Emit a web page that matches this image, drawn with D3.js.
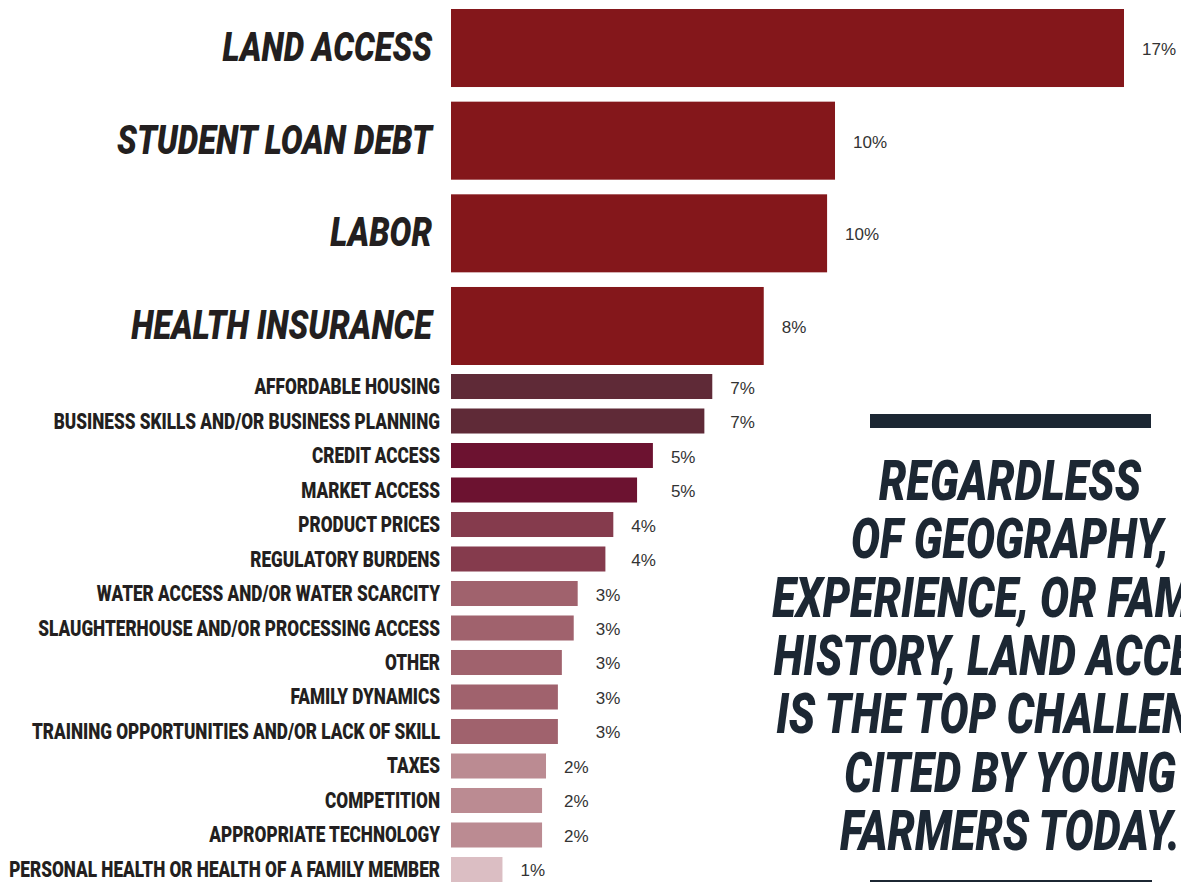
<!DOCTYPE html>
<html>
<head>
<meta charset="utf-8">
<script src="https://cdn.jsdelivr.net/npm/d3@7/dist/d3.min.js"></script>
<style>
  html, body { margin: 0; padding: 0; background: #ffffff; }
  svg { display: block; }
</style>
</head>
<body>
<svg id="chart" width="1181" height="882"></svg>
<script>
// ---------- DATA ----------
const bigCategories = ["LAND ACCESS", "STUDENT LOAN DEBT", "LABOR", "HEALTH INSURANCE"];
const bigValues = [17.0, 9.7, 9.5, 7.9];
const bigLabels = ["17%", "10%", "10%", "8%"];

const smallCategories = [
  "AFFORDABLE HOUSING",
  "BUSINESS SKILLS AND/OR BUSINESS PLANNING",
  "CREDIT ACCESS",
  "MARKET ACCESS",
  "PRODUCT PRICES",
  "REGULATORY BURDENS",
  "WATER ACCESS AND/OR WATER SCARCITY",
  "SLAUGHTERHOUSE AND/OR PROCESSING ACCESS",
  "OTHER",
  "FAMILY DYNAMICS",
  "TRAINING OPPORTUNITIES AND/OR LACK OF SKILL",
  "TAXES",
  "COMPETITION",
  "APPROPRIATE TECHNOLOGY",
  "PERSONAL HEALTH OR HEALTH OF A FAMILY MEMBER"
];
const smallValues = [6.6, 6.4, 5.1, 4.7, 4.1, 3.9, 3.2, 3.1, 2.8, 2.7, 2.7, 2.4, 2.3, 2.3, 1.3];
const smallLabels = ["7%", "7%", "5%", "5%", "4%", "4%", "3%", "3%", "3%", "3%", "3%", "2%", "2%", "2%", "1%"];

const calloutLines = [
  "REGARDLESS",
  "OF GEOGRAPHY,",
  "EXPERIENCE, OR FAMILY",
  "HISTORY, LAND ACCESS",
  "IS THE TOP CHALLENGE",
  "CITED BY YOUNG",
  "FARMERS TODAY."
];

// ---------- STYLE ----------
const bigColor = "#84171b";
const smallColorScale = d3.scaleOrdinal()
  .domain(["7%", "5%", "4%", "3%", "2%", "1%"])
  .range(["#5f2a37", "#6c1230", "#853b4d", "#a0626d", "#bb8b92", "#dbbec3"]);
const labelColor = "#231f20";
const valueColor = "#333333";
const navy = "#1c2733";
const condFont = "Roboto, 'Liberation Sans', Arial, sans-serif";

const svg = d3.select("#chart");

// ---------- SCALES ----------
const x = d3.scaleLinear().domain([0, 17]).range([451, 1124]);
const yBig = d3.scaleBand().domain(bigCategories).range([9, 365]).paddingInner(0.158).paddingOuter(0);
const ySmall = d3.scaleBand().domain(smallCategories).range([374, 882]).paddingInner(0.275).paddingOuter(0);

const bigData = bigCategories.map((c, i) => ({ c, v: bigValues[i], l: bigLabels[i] }));
const smallData = smallCategories.map((c, i) => ({ c, v: smallValues[i], l: smallLabels[i] }));

// helper: horizontal compression factor so a reference label hits a target width
function condense(sel, refText, targetWidth) {
  let k = 1;
  sel.each(function () {
    const t = d3.select(this).select("text").node();
    if (t.textContent === refText) k = targetWidth / t.getComputedTextLength();
  });
  return k;
}

// ---------- BIG BARS ----------
const gBig = svg.append("g");
gBig.selectAll("rect").data(bigData).join("rect")
  .attr("x", x(0))
  .attr("y", d => yBig(d.c))
  .attr("width", d => x(d.v) - x(0))
  .attr("height", yBig.bandwidth())
  .attr("fill", bigColor);

gBig.selectAll("text.val").data(bigData).join("text")
  .attr("class", "val")
  .attr("x", d => x(d.v) + 18)
  .attr("y", d => yBig(d.c) + yBig.bandwidth() / 2 + 7)
  .attr("font-family", "'Liberation Sans', Arial, sans-serif")
  .attr("font-size", 17)
  .attr("fill", valueColor)
  .text(d => d.l);

const bigLab = svg.append("g").selectAll("g").data(bigData).join("g");
bigLab.append("text")
  .attr("text-anchor", "end")
  .attr("font-family", condFont)
  .attr("font-weight", 900)
  .attr("font-style", "italic")
  .attr("font-size", 41)
  .attr("fill", labelColor)
  .text(d => d.c);
const kBig = condense(bigLab, "STUDENT LOAN DEBT", 315);
bigLab.attr("transform", d => `translate(432,${yBig(d.c) + yBig.bandwidth() / 2 + 13}) scale(${kBig},1)`);

// ---------- SMALL BARS ----------
const gSmall = svg.append("g");
gSmall.selectAll("rect").data(smallData).join("rect")
  .attr("x", x(0))
  .attr("y", d => ySmall(d.c))
  .attr("width", d => x(d.v) - x(0))
  .attr("height", ySmall.bandwidth())
  .attr("fill", d => smallColorScale(d.l));

// value labels aligned per displayed value group
const groupMax = d3.rollup(smallData, g => d3.max(g, d => d.v), d => d.l);
gSmall.selectAll("text.val").data(smallData).join("text")
  .attr("class", "val")
  .attr("x", d => x(groupMax.get(d.l)) + 18)
  .attr("y", d => ySmall(d.c) + ySmall.bandwidth() / 2 + 7)
  .attr("font-family", "'Liberation Sans', Arial, sans-serif")
  .attr("font-size", 17)
  .attr("fill", valueColor)
  .text(d => d.l);

const smallLab = svg.append("g").selectAll("g").data(smallData).join("g");
smallLab.append("text")
  .attr("text-anchor", "end")
  .attr("font-family", condFont)
  .attr("font-weight", 900)
  .attr("font-size", 22)
  .attr("fill", labelColor)
  .text(d => d.c);
const kSmall = condense(smallLab, "PERSONAL HEALTH OR HEALTH OF A FAMILY MEMBER", 431);
smallLab.attr("transform", d => `translate(440,${ySmall(d.c) + ySmall.bandwidth() / 2 + 7.5}) scale(${kSmall},1)`);

// ---------- CALLOUT ----------
const gCall = svg.append("g");
gCall.append("rect").attr("x", 870).attr("y", 414).attr("width", 281).attr("height", 14).attr("fill", navy);
gCall.append("rect").attr("x", 870).attr("y", 880).attr("width", 282).attr("height", 2).attr("fill", navy);

const lineY = d3.scaleLinear().domain([0, calloutLines.length - 1]).range([500, 850]);
const callLab = gCall.selectAll("g.line").data(calloutLines).join("g").attr("class", "line");
callLab.append("text")
  .attr("text-anchor", "middle")
  .attr("font-family", condFont)
  .attr("font-weight", 900)
  .attr("font-style", "italic")
  .attr("font-size", 56)
  .attr("fill", navy)
  .text(d => d);
const kCall = condense(callLab, "REGARDLESS", 262);
callLab.attr("transform", (d, i) => `translate(1010,${lineY(i)}) scale(${kCall},1)`);
</script>
</body>
</html>
